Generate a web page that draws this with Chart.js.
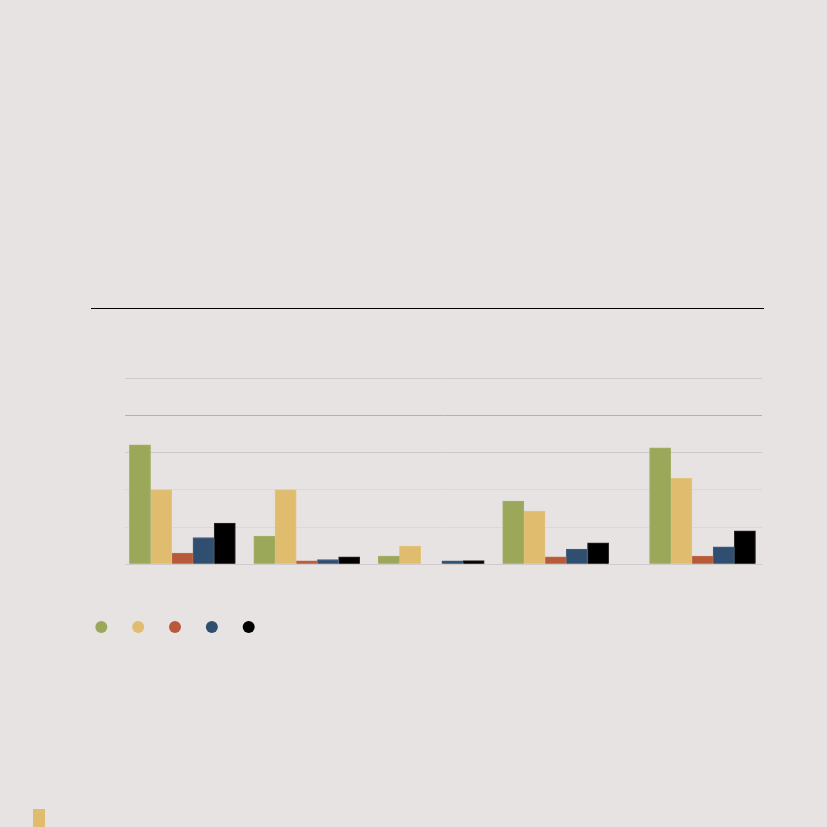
<!DOCTYPE html>
<html>
<head>
<meta charset="utf-8">
<script src="https://cdn.jsdelivr.net/npm/chart.js@4"></script>
<style>
  html, body { margin: 0; padding: 0; background: #e7e3e2; }
  #wrap { position: relative; width: 827px; height: 827px; background: #e7e3e2; overflow: hidden; }
  #c { position: absolute; left: 0; top: 0; }
  #rule { position: absolute; left: 91px; top: 308px; width: 673px; height: 1px; background: #000; }
  #mark { position: absolute; left: 33px; top: 809px; width: 12px; height: 18px; background: #e0bc6e; }
</style>
</head>
<body>
<div id="wrap">
  <div id="rule"></div>
  <canvas id="c" width="827" height="827"></canvas>
  <div id="mark"></div>
</div>
<script>
// Group positions along the (unlabelled) horizontal axis
const groupX = [1, 2, 3, 4, 5.18];
// Series values (one value per group)
const seriesGreen  = [3.21, 0.76, 0.22, 1.70, 3.13];
const seriesYellow = [2.00, 2.00, 0.49, 1.43, 2.31];
const seriesRed    = [0.30, 0.09, 0.00, 0.20, 0.22];
const seriesBlue   = [0.72, 0.13, 0.09, 0.41, 0.47];
const seriesBlack  = [1.11, 0.20, 0.10, 0.58, 0.90];
const yTicks = [0, 1, 2, 3, 4, 5];

const seriesList = [seriesGreen, seriesYellow, seriesRed, seriesBlue, seriesBlack];
const colors = ['#9ba85a', '#e0bc6e', '#b85a3a', '#304e70', '#000000'];
const edgeColors = ['#a5b06a', '#e3c47c', '#bf6a4c', '#46607f', '#2a2a2a'];
const gridColors = {0: '#cfcbca', 1: '#dcd8d7', 2: '#dcd8d7', 3: '#cbc8c7', 4: '#b4b1b0', 5: '#cfcbca'};

const datasets = seriesList.map((vals, i) => ({
  label: '',
  data: vals.map((v, j) => ({x: groupX[j], y: v})),
  backgroundColor: colors[i],
  borderColor: edgeColors[i],
  borderWidth: 1,
  borderSkipped: 'bottom',
  barThickness: 21.2,
  pointStyle: 'circle'
}));

new Chart(document.getElementById('c'), {
  type: 'bar',
  data: { datasets },
  options: {
    responsive: false,
    animation: false,
    devicePixelRatio: 1,
    layout: { padding: { left: 74.7, right: 65, top: 378.3, bottom: 184 } },
    plugins: {
      legend: {
        position: 'bottom',
        align: 'start',
        labels: {
          usePointStyle: true,
          boxWidth: 8.5,
          boxHeight: 8.5,
          padding: 22.35,
          font: { size: 12 },
          generateLabels(chart) {
            return chart.data.datasets.map((ds, i) => ({
              text: '',
              fillStyle: ds.backgroundColor,
              strokeStyle: ds.backgroundColor,
              lineWidth: 0,
              pointStyle: 'circle',
              hidden: false,
              datasetIndex: i
            }));
          }
        }
      },
      tooltip: { enabled: false }
    },
    scales: {
      x: {
        type: 'linear',
        offset: false,
        min: 0.539,
        max: 5.658,
        grid: { display: false, offset: false },
        border: { display: false },
        ticks: { display: false },
        afterFit(scale) { scale.height = 34.35; }
      },
      y: {
        min: 0,
        max: 5,
        afterBuildTicks(scale) { scale.ticks = yTicks.map(v => ({value: v})); },
        grid: {
          drawTicks: false,
          color: ctx => gridColors[ctx.tick ? ctx.tick.value : 0] || '#dcd8d7',
          lineWidth: 1
        },
        border: { display: false },
        ticks: { display: false },
        afterFit(scale) { scale.width = 50.3; }
      }
    }
  }
});
</script>
</body>
</html>
